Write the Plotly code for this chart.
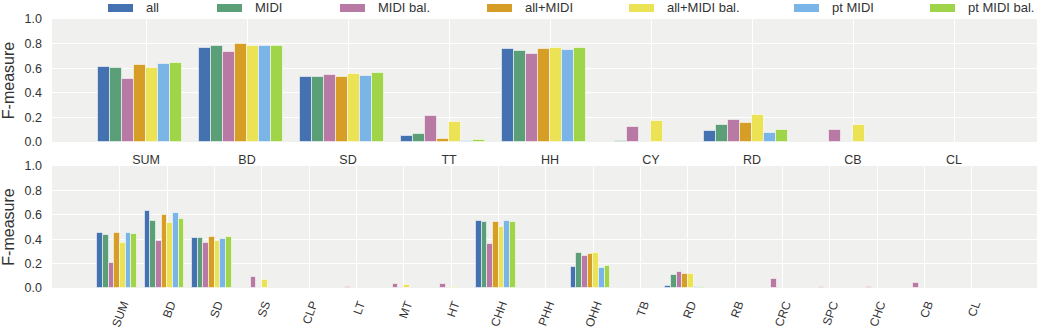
import plotly.graph_objects as go

# ---------------- data ----------------
series_names = ["all", "MIDI", "MIDI bal.", "all+MIDI", "all+MIDI bal.", "pt MIDI", "pt MIDI bal."]
colors = ["#4471b0", "#5a9f77", "#b979a5", "#d69e27", "#ebe255", "#7bb4e6", "#a0d449"]

cats_top = ["SUM", "BD", "SD", "TT", "HH", "CY", "RD", "CB", "CL"]
all_top = [0.609, 0.762, 0.531, 0.046, 0.756, 0.0, 0.093, 0.0, 0.0]
midi_top = [0.601, 0.778, 0.525, 0.068, 0.737, 0.010, 0.136, 0.0, 0.0]
midibal_top = [0.512, 0.735, 0.547, 0.215, 0.718, 0.120, 0.182, 0.095, 0.0]
allmidi_top = [0.629, 0.800, 0.528, 0.024, 0.756, 0.0, 0.158, 0.0, 0.0]
allmidibal_top = [0.601, 0.784, 0.555, 0.163, 0.765, 0.169, 0.218, 0.136, 0.0]
pt_top = [0.634, 0.778, 0.536, 0.010, 0.751, 0.0, 0.071, 0.0, 0.0]
ptbal_top = [0.642, 0.781, 0.561, 0.019, 0.762, 0.0, 0.095, 0.0, 0.0]

cats_bot = ["SUM", "BD", "SD", "SS", "CLP", "LT", "MT", "HT", "CHH", "PHH",
            "OHH", "TB", "RD", "RB", "CRC", "SPC", "CHC", "CB", "CL"]
all_bot = [0.453, 0.629, 0.412, 0, 0, 0, 0, 0, 0.551, 0, 0.171, 0, 0.014, 0, 0, 0, 0, 0, 0]
midi_bot = [0.437, 0.549, 0.412, 0, 0, 0, 0, 0, 0.545, 0, 0.284, 0, 0.110, 0, 0, 0, 0, 0, 0]
midibal_bot = [0.203, 0.382, 0.371, 0.088, 0, 0.006, 0.030, 0.030, 0.361, 0, 0.262, 0, 0.129, 0, 0.077, 0.005, 0.006, 0.044, 0]
allmidi_bot = [0.453, 0.602, 0.415, 0, 0, 0, 0, 0, 0.545, 0, 0.278, 0, 0.116, 0, 0, 0, 0, 0, 0]
allmidibal_bot = [0.368, 0.536, 0.387, 0.066, 0, 0, 0.022, 0.011, 0.501, 0, 0.287, 0, 0.118, 0, 0, 0, 0, 0, 0]
pt_bot = [0.453, 0.615, 0.404, 0, 0, 0, 0, 0, 0.551, 0, 0.163, 0, 0.006, 0, 0, 0, 0, 0, 0]
ptbal_bot = [0.442, 0.566, 0.420, 0, 0, 0, 0, 0, 0.537, 0, 0.179, 0, 0.005, 0, 0, 0, 0, 0, 0]

top_series = [all_top, midi_top, midibal_top, allmidi_top, allmidibal_top, pt_top, ptbal_top]
bot_series = [all_bot, midi_bot, midibal_bot, allmidi_bot, allmidibal_bot, pt_bot, ptbal_bot]

# ---------------- figure ----------------
BAR_W = 0.12
FONT = "Liberation Sans, Arial, sans-serif"
TXT = "#333333"
BG = "#f0f0ef"


def nz(vals):
    # zero-height bars are not drawn (as in the reference)
    return [v if v else None for v in vals]


fig = go.Figure()
for j, name in enumerate(series_names):
    fig.add_trace(go.Bar(
        x=cats_top, y=nz(top_series[j]), name=name, xaxis="x", yaxis="y",
        width=BAR_W, offset=(j - 4) * BAR_W,
        marker=dict(color=colors[j], line=dict(color="rgba(255,255,255,0.55)", width=1)),
        showlegend=False))
    fig.add_trace(go.Bar(
        x=cats_bot, y=nz(bot_series[j]), name=name, xaxis="x2", yaxis="y2",
        width=BAR_W, offset=(j - 4) * BAR_W,
        marker=dict(color=colors[j], line=dict(color="rgba(255,255,255,0.55)", width=1)),
        showlegend=False))

W, H = 1037, 329
ML, MR, MT, MB = 52, 0, 19, 41
pw = W - ML - MR
ph = H - MT - MB
top_dom = [(288 - 142) / ph, 1.0]
bot_dom = [0.0, (288 - 166) / ph]

axis_common = dict(showgrid=True, gridcolor="white", gridwidth=1.4, zeroline=False,
                   showline=False, ticks="", tickfont=dict(family=FONT, size=12.5, color=TXT))

fig.update_layout(
    width=W, height=H,
    margin=dict(l=ML, r=MR, t=MT, b=MB, autoexpand=False),
    paper_bgcolor="white", plot_bgcolor=BG,
    barmode="group", bargap=0, bargroupgap=0,
    font=dict(family=FONT, color=TXT),
    xaxis=dict(**axis_common, domain=[0, 1], anchor="y",
               type="category", categoryorder="array", categoryarray=cats_top,
               range=[-0.931, -0.931 + pw / 101.0], ticklabelstandoff=8),
    yaxis=dict(**axis_common, domain=top_dom, anchor="x", range=[0, 1.0],
               tickvals=[0, 0.2, 0.4, 0.6, 0.8, 1.0], tickformat=".1f",
               ticklabelstandoff=9, automargin=False,
               title=dict(text="F-measure", font=dict(family=FONT, size=16, color=TXT), standoff=6)),
    xaxis2=dict(**axis_common, domain=[0, 1], anchor="y2",
                type="category", categoryorder="array", categoryarray=cats_bot,
                range=[-1.435, -1.435 + pw / 47.33], tickangle=-70,
                ticklabelstandoff=6, ticklabelshift=3),
    yaxis2=dict(**axis_common, domain=bot_dom, anchor="x2", range=[0, 1.0],
                tickvals=[0, 0.2, 0.4, 0.6, 0.8, 1.0], tickformat=".1f",
                ticklabelstandoff=9, automargin=False,
                title=dict(text="F-measure", font=dict(family=FONT, size=16, color=TXT), standoff=6)),
)
fig.update_xaxes(selector=dict(anchor="y2"), tickfont=dict(family=FONT, size=12, color=TXT))

# ---------------- legend (wide swatches like the reference) ----------------
swatch_px = [108, 217, 340, 487, 629, 794, 930]
leg_y_px = 8
for j, name in enumerate(series_names):
    x0 = (swatch_px[j] - ML) / pw
    x1 = (swatch_px[j] + 25 - ML) / pw
    yc = 1 + (MT - leg_y_px) / ph
    hh = 4 / ph
    fig.add_shape(type="rect", xref="paper", yref="paper", x0=x0, x1=x1,
                  y0=yc - hh, y1=yc + hh, fillcolor=colors[j], line=dict(width=0))
    fig.add_annotation(xref="paper", yref="paper", x=(swatch_px[j] + 36 - ML) / pw, y=yc,
                       text=name, showarrow=False, xanchor="left", yanchor="middle",
                       font=dict(family=FONT, size=13, color=TXT))

fig.write_html("out.html")
